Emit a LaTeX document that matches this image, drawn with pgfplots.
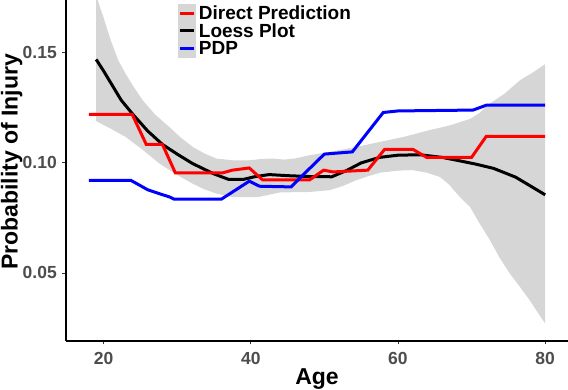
\documentclass[border=0pt]{standalone}
\usepackage{pgfplots}
\pgfplotsset{compat=1.18}
\usepackage{fontspec}
\setmainfont{Liberation Sans}
\definecolor{bandgray}{RGB}{214,214,214}
\definecolor{ticktext}{RGB}{77,77,77}
\begin{document}
\begin{tikzpicture}
\path[use as bounding box] (-66pt,-49pt) rectangle (502pt,341pt);
\begin{axis}[
    scale only axis,
    width=502pt, height=341pt,
    xmin=14.9, xmax=83.1,
    ymin=0.0191, ymax=0.174,
    axis x line*=bottom, axis y line*=left,
    axis line style={-, line width=2pt, black},
    tick align=outside,
    major tick length=3.5pt,
    tick style={line width=0.9pt, color=black!80},
    xtick={20,40,60,80},
    ytick={0.05,0.10,0.15},
    yticklabels={0.05,0.10,0.15},
    /pgf/number format/assume math mode=true,
    xticklabel style={anchor=base, yshift=-20.5pt, inner sep=0pt, font=\fontsize{17.5}{18}\selectfont\bfseries, text=ticktext},
    yticklabel style={anchor=east, xshift=-5.5pt, inner sep=0pt, font=\fontsize{17.5}{18}\selectfont\bfseries, text=ticktext},
    xlabel={Age},
    ylabel={Probability of Injury},
    every axis x label/.style={at={(axis description cs:0.5,-0.127)}, anchor=base, font=\fontsize{23}{24}\selectfont\bfseries},
    every axis y label/.style={at={(axis description cs:-0.1082,0.525)}, anchor=center, rotate=90, font=\fontsize{23}{24}\selectfont\bfseries},
    legend cell align={left},
    legend style={draw=none, fill=none, at={(axis description cs:0.2237,0.9874)}, anchor=north west,
        inner sep=0pt, outer sep=0pt, column sep=3.3pt, row sep=0pt,
        nodes={inner sep=0pt, text depth=0pt},
        font=\fontsize{19}{20}\selectfont\bfseries},
    legend image code/.code={
        \fill[bandgray] (0pt,-8.6pt) rectangle (16.7pt,8.6pt);
        \draw[#1, line width=3pt] (1.2pt,0pt) -- (15.5pt,0pt);
    },
]
% confidence band of the loess fit (upper edge, then lower edge back)
\addplot[fill=bandgray, draw=none, forget plot] coordinates {
(19,0.176) (20,0.166) (21,0.1555) (22,0.1466) (23,0.1405) (24,0.135) (25.3,0.1285)
(27,0.122) (28.9,0.1164) (30.5,0.1115) (32.1,0.1073) (33.7,0.1043) (35.3,0.102)
(37.5,0.1012) (39.8,0.1012) (41.5,0.1018) (43,0.102) (44.5,0.1015) (46,0.102)
(48,0.1035) (50.7,0.105) (54,0.107) (57.5,0.1095) (61,0.112) (64.3,0.1149)
(67,0.117) (69.8,0.120) (71,0.1225) (72.5,0.127) (74.5,0.1315) (76.6,0.1376)
(78.3,0.141) (80,0.1449)
(80,0.027) (79,0.032) (77.9,0.0376) (76.5,0.044) (75.2,0.0497) (73.8,0.057)
(72.5,0.0649) (71,0.073) (69.8,0.080) (69,0.0825) (68,0.086) (67,0.090)
(65.7,0.0936) (64,0.0955) (62,0.0967) (60,0.0965) (57.5,0.0955) (56,0.094)
(54.3,0.0921) (52.5,0.0895) (50.7,0.0876) (48,0.0868) (44,0.0866) (41,0.0845)
(37.5,0.0845) (35.3,0.0861) (33.7,0.088) (32.1,0.0906) (30,0.0945) (27.6,0.0997)
(25.3,0.106) (23,0.1118) (21,0.1155) (19,0.119)
} -- cycle;

\addlegendimage{red}
\addlegendentry{Direct Prediction}
\addlegendimage{black}
\addlegendentry{Loess Plot}
\addlegendimage{blue}
\addlegendentry{PDP}

% loess
\addplot[black, line width=3pt, forget plot] coordinates {
(19,0.147) (20,0.1418) (22.4,0.1285) (24,0.122) (26,0.1145) (28,0.1084)
(30,0.104) (32.1,0.0997) (35,0.0950) (37,0.0925) (39,0.0925) (40.5,0.0937)
(42.5,0.0947) (45,0.0942) (48,0.0938) (51,0.0937) (53,0.0965) (55,0.100)
(57.5,0.1025) (60,0.1035) (63,0.1037) (66,0.1025) (68,0.1012) (70.5,0.0995)
(73,0.0975) (76,0.0935) (78,0.0895) (80,0.0855)
};

% direct prediction
\addplot[red, line width=3pt, forget plot] coordinates {
(18,0.122) (23.9,0.122) (25.8,0.1084) (28,0.1084) (29.75,0.0955) (36.2,0.0955)
(37.5,0.0967) (39.8,0.0977) (41.6,0.0923) (48,0.0923) (49.9,0.0967) (51.2,0.0959)
(55.9,0.0967) (58.2,0.1062) (62,0.1062) (63.9,0.1025) (70,0.1025) (72,0.1121)
(80,0.1121)
};

% PDP
\addplot[blue, line width=3pt, forget plot] coordinates {
(18,0.0921) (23.7,0.0921) (26,0.0878) (27.6,0.0860) (29,0.0845) (29.6,0.0835)
(36,0.0835) (39.8,0.0917) (41.2,0.0894) (45.5,0.0891) (46.6,0.0929) (50,0.104)
(53.8,0.105) (58,0.1229) (60,0.1236) (70.2,0.124) (72,0.1262) (80,0.1262)
};
\end{axis}
\end{tikzpicture}
\end{document}
